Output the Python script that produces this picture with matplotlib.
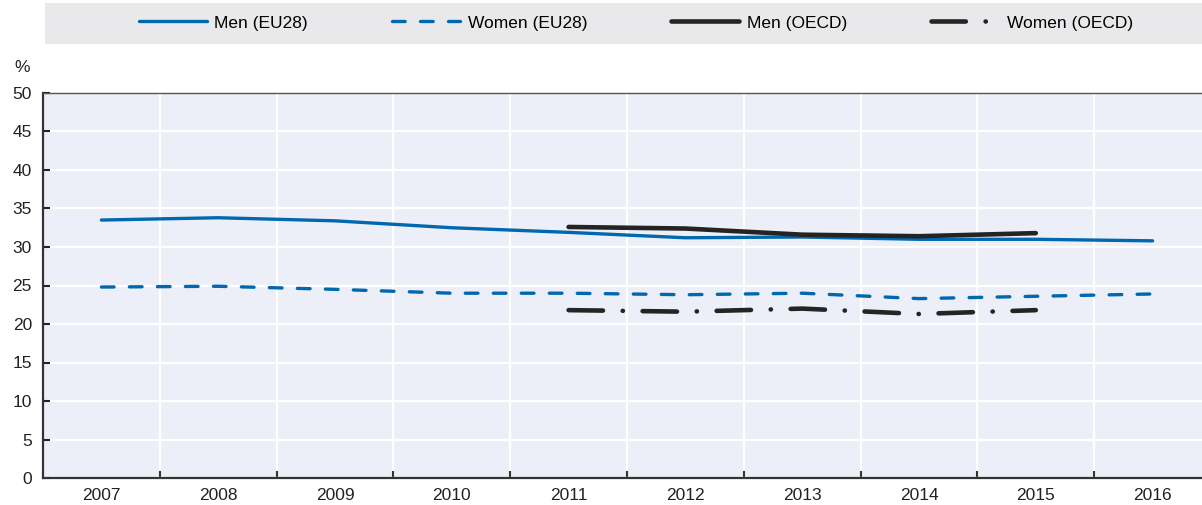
import matplotlib.pyplot as plt
from matplotlib.patches import Rectangle
import numpy as np

years = ["2007", "2008", "2009", "2010", "2011", "2012", "2013", "2014", "2015", "2016"]
men_eu28 = [33.5, 33.8, 33.4, 32.5, 31.9, 31.2, 31.3, 31.0, 31.0, 30.8]
women_eu28 = [24.8, 24.9, 24.5, 24.0, 24.0, 23.8, 24.0, 23.3, 23.6, 23.9]
oecd_years = ["2011", "2012", "2013", "2014", "2015"]
men_oecd = [32.6, 32.4, 31.6, 31.4, 31.8]
women_oecd = [21.8, 21.6, 22.0, 21.3, 21.8]

blue = "#0068AE"
dark = "#242424"

plt.rcParams["font.family"] = ["Liberation Sans Narrow", "Liberation Sans", "DejaVu Sans"]
plt.rcParams["font.size"] = 12.5

fig = plt.figure(figsize=(12.02, 5.05), dpi=100, facecolor="white")
# the plot area runs a bit past the right edge of the figure
ax = fig.add_axes([43 / 1202, 1 - 478 / 505, (1211 - 43) / 1202, (478 - 93) / 505])
ax.set_facecolor("#ECEFF7")

x = np.arange(len(years))
xo = np.array([years.index(y) for y in oecd_years])

ax.plot(x, men_eu28, color=blue, lw=2.4, solid_capstyle="round", label="Men (EU28)", zorder=3)
ax.plot(x, women_eu28, color=blue, lw=2.4, linestyle=(0, (3.8, 4.6)), dash_capstyle="round",
        label="Women (EU28)", zorder=3)
ax.plot(xo, men_oecd, color=dark, lw=3.3, solid_capstyle="round", label="Men (OECD)", zorder=4)
ax.plot(xo, women_oecd, color=dark, lw=3.3, linestyle=(0, (7.5, 4.3, 0.05, 4.3)),
        dash_capstyle="round", label="Women (OECD)", zorder=4)

ax.set_xlim(-0.5, len(years) - 0.5)
ax.set_ylim(0, 50)
ax.set_yticks(range(0, 51, 5))
ax.set_xticks(x)
ax.set_xticklabels(years)
ax.set_xticks(np.arange(0.5, len(years) - 0.5, 1), minor=True)

ax.grid(True, which="major", axis="y", color="white", lw=1.6, zorder=0)
ax.grid(True, which="minor", axis="x", color="white", lw=1.6, zorder=0)
ax.set_axisbelow(True)

ax.tick_params(axis="x", which="major", length=0, pad=7, colors="#222222")
ax.tick_params(axis="x", which="minor", length=5, width=1.5, direction="in", color="#333333")
ax.tick_params(axis="y", length=5, width=1.5, direction="in", pad=8, colors="#222222")

ax.spines["right"].set_visible(False)
ax.spines["left"].set_color("#333333")
ax.spines["left"].set_linewidth(1.6)
ax.spines["bottom"].set_color("#333333")
ax.spines["bottom"].set_linewidth(1.6)
ax.spines["top"].set_color("#555555")
ax.spines["top"].set_linewidth(1.0)

fig.text(22 / 1202, 1 - 68 / 505, "%", ha="center", va="center", color="#222222")

fig.patches.append(Rectangle((45 / 1202, 1 - 44 / 505), 1 - 45 / 1202, 41 / 505,
                             transform=fig.transFigure, facecolor="#E9E9EB",
                             edgecolor="none", zorder=0))
fig.legend(loc="center", bbox_to_anchor=(636 / 1202, 1 - 23 / 505), ncol=4,
           frameon=False, handlelength=3.9, handletextpad=0.45, columnspacing=4.85)

plt.savefig("out.png", dpi=100)
